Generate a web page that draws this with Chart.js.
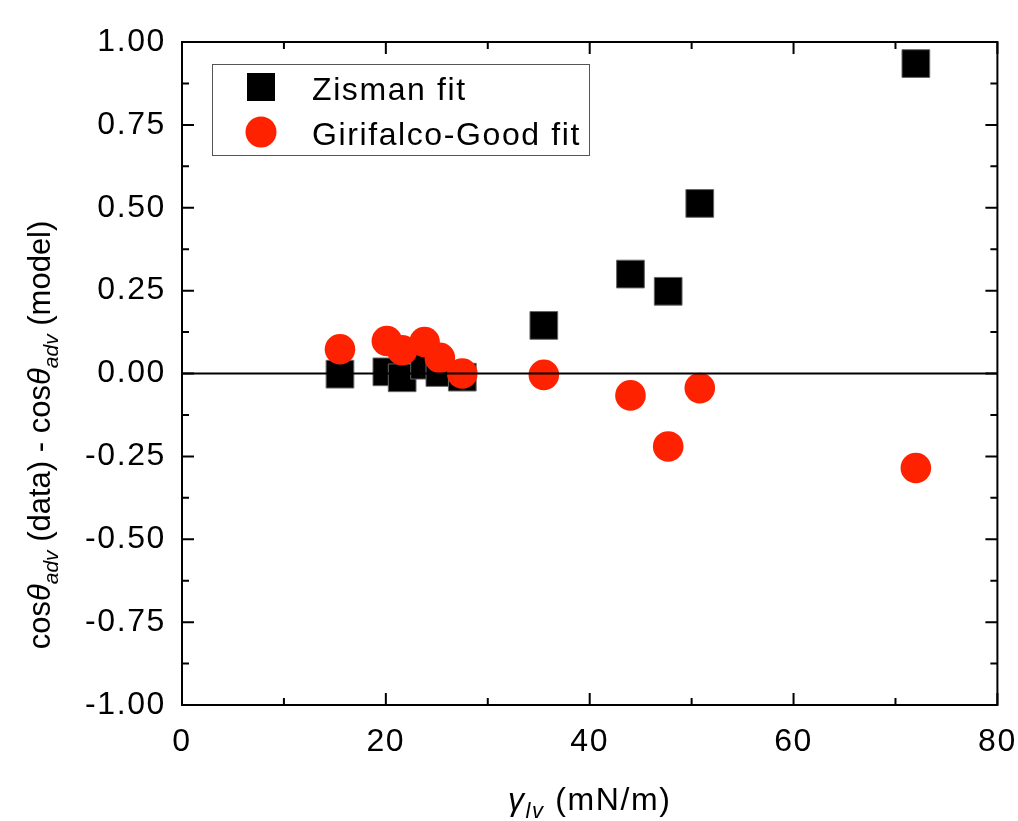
<!DOCTYPE html>
<html>
<head>
<meta charset="utf-8">
<script src="https://cdn.jsdelivr.net/npm/chart.js@4.4.0/dist/chart.umd.min.js"></script>
<style>
  html, body { margin: 0; padding: 0; background: #fff; }
  #wrap { width: 1018px; height: 821px; }
</style>
</head>
<body>
<div id="wrap"><canvas id="myChart" width="1018" height="821"></canvas></div>
<script>
// surface tension of the probe liquids (mN/m)
const gammaLV = [15.5, 20.1, 21.6, 23.8, 25.3, 27.5, 35.5, 44.0, 47.7, 50.8, 72.0];
// cos(adv) data minus model, per fit
const zismanDiff = [-0.002, 0.005, -0.013, 0.025, 0.003, -0.011, 0.145, 0.300, 0.248, 0.513, 0.935];
const girifalcoDiff = [0.073, 0.098, 0.070, 0.095, 0.047, 0.000, -0.004, -0.066, -0.220, -0.044, -0.285];

const seriesNames = ["Zisman fit", "Girifalco-Good fit"];
const xTickLabels = ["0", "20", "40", "60", "80"];
const yTickLabels = ["1.00", "0.75", "0.50", "0.25", "0.00", "-0.25", "-0.50", "-0.75", "-1.00"];

const FONT = "'Liberation Sans', Arial, sans-serif";
const RED = "#ff2200";
const SPACING = "1.6px";

function toPoints(xs, ys) {
  return xs.map((x, i) => ({ x: x, y: ys[i] }));
}

// draw a run of text pieces (for subscripts / italics), centred on x
function drawRich(ctx, parts, x, y) {
  let total = 0;
  parts.forEach(p => {
    ctx.font = p.font;
    p.w = ctx.measureText(p.t).width;
    total += p.w;
  });
  let cx = x - total / 2;
  parts.forEach(p => {
    ctx.font = p.font;
    ctx.fillText(p.t, cx, y + (p.dy || 0));
    cx += p.w;
  });
}

const framePlugin = {
  id: "frame",
  beforeUpdate(chart) {
    chart.ctx.letterSpacing = SPACING;
  },
  beforeDraw(chart) {
    const ctx = chart.ctx;
    ctx.letterSpacing = SPACING;
    ctx.save();
    ctx.fillStyle = "#ffffff";
    ctx.fillRect(0, 0, chart.width, chart.height);
    ctx.restore();
  },
  afterDatasetsDraw(chart) {
    const ctx = chart.ctx;
    const a = chart.chartArea;
    const xs = chart.scales.x, ys = chart.scales.y;
    ctx.save();
    ctx.strokeStyle = "#000";
    ctx.lineWidth = 2;

    // zero line
    const y0 = ys.getPixelForValue(0);
    ctx.beginPath();
    ctx.moveTo(a.left, y0);
    ctx.lineTo(a.right, y0);
    ctx.stroke();

    // box
    ctx.strokeRect(a.left, a.top, a.right - a.left, a.bottom - a.top);

    // inward ticks, major + minor
    const xt = xs.ticks.map(t => t.value);
    const yt = ys.ticks.map(t => t.value);
    ctx.beginPath();
    xt.forEach((v, i) => {
      const p = xs.getPixelForValue(v);
      ctx.moveTo(p, a.bottom); ctx.lineTo(p, a.bottom - 12);
      ctx.moveTo(p, a.top); ctx.lineTo(p, a.top + 12);
      if (i < xt.length - 1) {
        const m = xs.getPixelForValue((v + xt[i + 1]) / 2);
        ctx.moveTo(m, a.bottom); ctx.lineTo(m, a.bottom - 7);
        ctx.moveTo(m, a.top); ctx.lineTo(m, a.top + 7);
      }
    });
    yt.forEach((v, i) => {
      const p = ys.getPixelForValue(v);
      ctx.moveTo(a.left, p); ctx.lineTo(a.left + 12, p);
      ctx.moveTo(a.right, p); ctx.lineTo(a.right - 12, p);
      if (i < yt.length - 1) {
        const m = ys.getPixelForValue((v + yt[i + 1]) / 2);
        ctx.moveTo(a.left, m); ctx.lineTo(a.left + 7, m);
        ctx.moveTo(a.right, m); ctx.lineTo(a.right - 7, m);
      }
    });
    ctx.stroke();
    ctx.restore();
  },
  afterDraw(chart) {
    const ctx = chart.ctx;
    const a = chart.chartArea;
    ctx.save();
    ctx.fillStyle = "#000";
    ctx.textBaseline = "alphabetic";
    ctx.textAlign = "left";

    const big = "32px " + FONT;
    const it = "italic 32px " + FONT;
    const sub = "italic 22px " + FONT;

    // x title
    ctx.letterSpacing = SPACING;
    drawRich(ctx, [
      { t: "\u03b3", font: it },
      { t: "lv", font: sub, dy: 8 },
      { t: " (mN/m)", font: big }
    ], (a.left + a.right) / 2, 810);

    // y title
    ctx.save();
    ctx.letterSpacing = "0px";
    ctx.translate(50, 435);
    ctx.rotate(-Math.PI / 2);
    drawRich(ctx, [
      { t: "cos", font: "31px " + FONT },
      { t: "\u03b8", font: "italic 31px " + FONT },
      { t: "adv", font: "italic 21px " + FONT, dy: 8 },
      { t: " (data) - cos", font: "31px " + FONT },
      { t: "\u03b8", font: "italic 31px " + FONT },
      { t: "adv", font: "italic 21px " + FONT, dy: 8 },
      { t: " (model)", font: "31px " + FONT }
    ], 0, 0);
    ctx.restore();

    // legend
    ctx.strokeStyle = "#555";
    ctx.lineWidth = 1;
    ctx.strokeRect(212.5, 64.5, 377, 91);
    ctx.fillStyle = "#000";
    ctx.fillRect(247, 73, 28, 28);
    ctx.fillStyle = RED;
    ctx.beginPath();
    ctx.arc(261, 132, 15.5, 0, Math.PI * 2);
    ctx.fill();
    ctx.fillStyle = "#000";
    ctx.font = big;
    ctx.letterSpacing = SPACING;
    ctx.fillText(seriesNames[0], 312, 100);
    ctx.fillText(seriesNames[1], 312, 145);
    ctx.restore();
  }
};

const ctx = document.getElementById("myChart");
new Chart(ctx, {
  type: "scatter",
  data: {
    datasets: [
      {
        label: seriesNames[0],
        data: toPoints(gammaLV, zismanDiff),
        pointStyle: "rect",
        pointRadius: 19.6,
        pointHoverRadius: 19.6,
        backgroundColor: "#000",
        borderColor: "#666",
        borderWidth: 1,
        order: 1
      },
      {
        label: seriesNames[1],
        data: toPoints(gammaLV, girifalcoDiff),
        pointStyle: "circle",
        pointRadius: 15.3,
        pointHoverRadius: 15.3,
        backgroundColor: RED,
        borderColor: RED,
        borderWidth: 0,
        order: 0
      }
    ]
  },
  options: {
    responsive: false,
    animation: false,
    devicePixelRatio: 1,
    layout: { padding: { top: 42, right: 19, bottom: 0, left: 0 } },
    plugins: {
      legend: { display: false },
      tooltip: { enabled: false }
    },
    scales: {
      x: {
        type: "linear",
        min: 0,
        max: 80,
        grid: { display: false },
        border: { display: false },
        afterBuildTicks: s => { s.ticks = xTickLabels.map(l => ({ value: parseFloat(l) })); },
        afterFit: s => { s.height = 116; s.paddingLeft = 0; s.paddingRight = 0; },
        ticks: {
          autoSkip: false,
          maxRotation: 0,
          padding: 10,
          color: "#000",
          font: { family: FONT, size: 32 },
          callback: (v, i) => xTickLabels[i]
        }
      },
      y: {
        min: -1,
        max: 1,
        grid: { display: false },
        border: { display: false },
        afterBuildTicks: s => { s.ticks = yTickLabels.map(l => ({ value: parseFloat(l) })); },
        afterFit: s => { s.width = 182; s.paddingTop = 0; s.paddingBottom = 0; },
        ticks: {
          autoSkip: false,
          padding: 8,
          color: "#000",
          font: { family: FONT, size: 32 },
          callback: (v, i) => yTickLabels[i]
        }
      }
    }
  },
  plugins: [framePlugin]
});
</script>
</body>
</html>
